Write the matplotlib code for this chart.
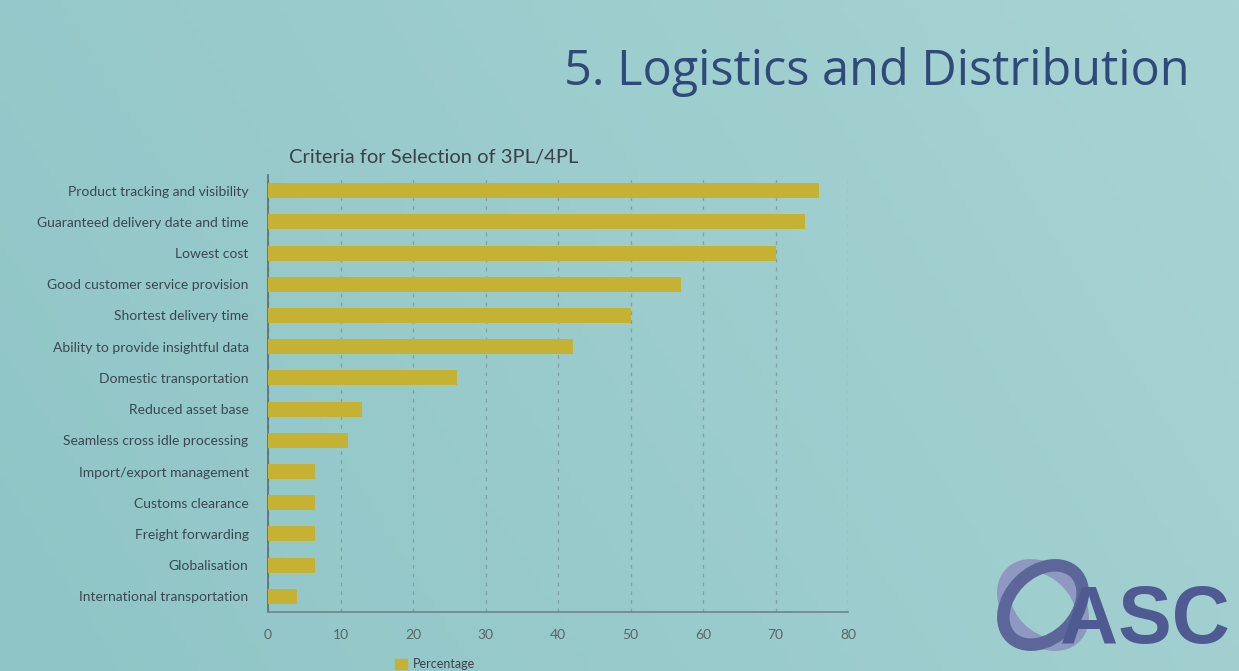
import matplotlib
matplotlib.use("Agg")
import matplotlib.pyplot as plt
import numpy as np
from matplotlib.patches import Ellipse, Rectangle

categories = [
    "Product tracking and visibility",
    "Guaranteed delivery date and time",
    "Lowest cost",
    "Good customer service provision",
    "Shortest delivery time",
    "Ability to provide insightful data",
    "Domestic transportation",
    "Reduced asset base",
    "Seamless cross idle processing",
    "Import/export management",
    "Customs clearance",
    "Freight forwarding",
    "Globalisation",
    "International transportation",
]
values = [76, 74, 70, 57, 50, 42, 26, 13, 11, 6.5, 6.5, 6.5, 6.5, 4]
xticks = [0, 10, 20, 30, 40, 50, 60, 70, 80]
series_name = "Percentage"

BG = "#95c8ca"
BAR = "#c6b232"
TXT = "#3a4750"

fig = plt.figure(figsize=(12.39, 6.71), dpi=100)
fig.patch.set_facecolor(BG)

# subtle background gradient (projected slide)
bg_ax = fig.add_axes([0, 0, 1, 1], zorder=-10)
gx = np.linspace(0, 1, 200)
gy = np.linspace(0, 1, 100)
GX, GY = np.meshgrid(gx, gy)
c0 = np.array([0x8f, 0xc5, 0xc7]) / 255
c1 = np.array([0xa8, 0xd3, 0xd3]) / 255
t = np.clip(0.75 * GX + 0.25 * GY, 0, 1)[..., None]
bg_ax.imshow(c0 * (1 - t) + c1 * t, aspect="auto", extent=[0, 1, 0, 1], origin="lower")
bg_ax.axis("off")

ax = fig.add_axes([268 / 1239, 1 - 612 / 671, (848 - 268) / 1239, (612 - 175) / 671])
ax.patch.set_alpha(0)
y = list(range(len(categories)))
ax.barh(y, values, height=0.48, color=BAR, zorder=3)
ax.set_ylim(len(categories) - 0.5, -0.5)
ax.set_xlim(0, 80)
ax.set_yticks(y)
ax.set_yticklabels(categories, fontsize=10, color=TXT, family="Lato")
ax.set_xticks(xticks)
ax.set_xticklabels([str(t) for t in xticks], fontsize=10, color="#5a6468", family="Lato")
ax.tick_params(axis="both", length=0)
ax.tick_params(axis="y", pad=14)
ax.tick_params(axis="x", pad=12)
ax.grid(axis="x", linestyle=(0, (3, 4)), color="#7f9fa3", linewidth=0.9, zorder=0)
for s in ["top", "right"]:
    ax.spines[s].set_visible(False)
ax.spines["left"].set_color("#5b6d72")
ax.spines["bottom"].set_color("#6f8488")
ax.spines["left"].set_linewidth(1.2)
ax.spines["bottom"].set_linewidth(1.2)

fig.text(289 / 1239, 1 - 157 / 671, "Criteria for Selection of 3PL/4PL", fontsize=14.5,
         color="#3a4148", family="Lato", va="center", ha="left")

fig.text(1190 / 1239, 1 - 72 / 671, "5. Logistics and Distribution", fontsize=35,
         color="#2e4a78", family="Open Sans", va="center", ha="right")

# legend (partially visible at bottom)
fig.patches.append(Rectangle((395 / 1239, 1 - 669 / 671), 12 / 1239, 10 / 671,
                             transform=fig.transFigure, color=BAR))
fig.text(413 / 1239, 1 - 664 / 671, series_name, fontsize=9, color="#3a4148",
         family="Lato", va="center", ha="left")

# logo: two interlaced ribbons in an equal-aspect axes
lax = fig.add_axes([988 / 1239, 1 - 660 / 671, 110 / 1239, 110 / 671])
lax.set_xlim(-1, 1)
lax.set_ylim(-1, 1)
lax.set_aspect("equal")
lax.axis("off")
lax.add_patch(Ellipse((0, 0), 1.65, 1.2, angle=-45, fill=False, lw=9, ec="#8e98c0"))
lax.add_patch(Ellipse((0, 0), 1.65, 1.2, angle=45, fill=False, lw=9, ec="#5c6698"))
fig.text(1060 / 1239, 1 - 622 / 671, "ASC", fontsize=58, fontweight="bold",
         color="#4f5a92", family="Liberation Sans", va="center", ha="left")

fig.savefig("out.png", dpi=100, facecolor=BG)
